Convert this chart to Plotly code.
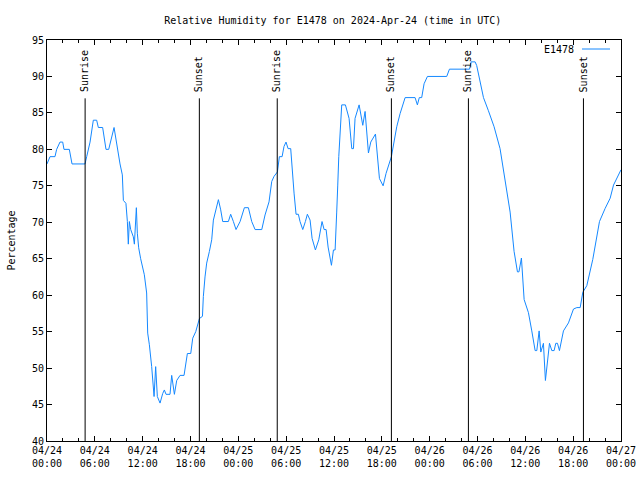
import pandas as pd
import plotly.graph_objects as go

# hours since 2024-04-24 00:00 UTC and relative humidity (%)
hours = [0, 0.38, 1.0, 1.21, 1.63, 1.97, 2.13, 2.8, 3.14, 4.77, 4.98, 5.4, 5.81, 6.23, 6.44, 6.98,
         7.4, 7.74, 8.41, 8.82, 9.16, 9.45, 9.58, 9.9, 10.08, 10.2, 10.33, 10.5, 10.83, 10.96, 11.21,
         11.33, 11.5, 11.75, 12.21, 12.5, 12.63, 12.84, 13.13, 13.43, 13.63, 13.84, 14.18, 14.51,
         14.72, 14.93, 15.43, 15.64, 15.98, 16.27, 16.69, 17.19, 17.61, 18.03, 18.28, 18.66, 19.12,
         19.5, 19.61, 19.82, 20.03, 20.37, 20.66, 20.87, 21.29, 21.5, 21.79, 22.04, 22.75, 23.04,
         23.38, 23.71, 24.22, 24.76, 25.26, 25.68, 26.1, 26.94, 27.35, 27.85, 28.19, 28.48, 28.9,
         29.15, 29.49, 29.73, 29.98, 30.24, 30.57, 30.78, 30.99, 31.24, 31.53, 31.74, 32.08, 32.41,
         32.66, 33.0, 33.25, 33.67, 34.09, 34.5, 34.76, 35.01, 35.26, 35.68, 35.93, 36.14, 36.22,
         36.34, 36.47, 36.6, 36.97, 37.43, 37.89, 38.23, 38.44, 38.64, 39.15, 39.27, 39.61, 39.9,
         40.32, 40.61, 41.2, 41.7, 42.16, 42.53, 43.2, 43.87, 44.29, 44.92, 46.17, 46.46, 46.7,
         47.0, 47.3, 47.72, 50.14, 50.48, 53.0, 53.2, 53.7, 53.9, 54.12, 54.75, 55.37, 56.08, 56.83,
         57.59, 58.09, 58.59, 59.01, 59.2, 59.51, 59.85, 60.39, 60.81, 61.23, 61.44, 61.73, 61.94,
         62.27, 62.52, 62.77, 63.03, 63.32, 63.61, 63.82, 64.03, 64.28, 64.78, 65.41, 66.04, 66.46,
         66.88, 67.21, 67.71, 68.46, 68.88, 69.3, 70.01, 70.64, 71.06, 71.9, 72.0]
humidity = [78, 79, 79, 80, 81, 81, 80, 80, 78, 78, 79, 81, 84, 84, 83, 83,
            80, 80, 83, 80, 78, 76.5, 73, 72.6, 70.1, 67, 70.1, 69, 68, 67, 72,
            68.5, 66.5, 65, 62.8, 60.3, 54.8, 53.2, 50.2, 46.1, 50.2, 46.1, 45.2, 46.5,
            47, 46.4, 46.4, 49, 46.4, 48.3, 49, 49, 52, 52, 54.1, 55, 56.8,
            57.1, 59.8, 62.5, 64.4, 66, 67.6, 70.3, 72.1, 73.1, 71.7, 70.1, 70.1, 71.1,
            70.1, 69, 70.1, 72, 72, 70.1, 69, 69, 71, 72.8, 75.6, 76.3, 76.9,
            79, 79, 80.4, 81, 80.1, 80.1, 76.7, 74, 71.1, 71.1, 70.1, 69, 70.1,
            71.1, 70.3, 67.8, 66.2, 67.6, 70.1, 69, 69, 66.6, 64.1, 66.2, 66.2, 67.8,
            71.4, 75.1, 79, 86.1, 86.1, 84.25, 80.1, 80.1, 84.25, 86.1, 85.2, 83.3, 85.2,
            79.5, 81, 82.1, 76, 75, 76.7, 79, 83.1, 84.9, 87.1, 87.1, 86.1, 87.1,
            87.1, 89, 90, 90, 91, 91, 92, 92, 91.5, 90.3, 87.1, 85.3, 83.1, 80.1,
            75.1, 71.4, 66, 63.2, 63.2, 65.1, 59.4, 57.6, 55.1, 52.4, 52.4, 55.1, 52.2,
            53.4, 48.3, 50.8, 53.4, 52.4, 52.4, 53.4, 53.4, 52.4, 55.1, 56.2, 58.1, 58.3,
            58.3, 60.4, 61.3, 64.9, 67.4, 70.1, 71.9, 73.3, 75.1, 77.1, 77.2]

event_hours = [4.78, 19.11, 28.88, 43.2, 52.86, 67.29]
event_names = ["Sunrise", "Sunset", "Sunrise", "Sunset", "Sunrise", "Sunset"]

y_ticks = [40, 45, 50, 55, 60, 65, 70, 75, 80, 85, 90, 95]

base = pd.Timestamp("2024-04-24 00:00")
times = base + pd.to_timedelta(hours, unit="h")
event_times = base + pd.to_timedelta(event_hours, unit="h")

FONT = "DejaVu Sans Mono"
LINE_COLOR = "rgb(20,136,255)"

fig = go.Figure()
fig.add_trace(go.Scatter(x=times, y=humidity, mode="lines",
                         line=dict(color=LINE_COLOR, width=1), name="E1478",
                         showlegend=False))

for t, name in zip(event_times, event_names):
    fig.add_shape(type="line", x0=t, x1=t, y0=40, y1=87, xref="x", yref="y",
                  line=dict(color="black", width=1))
    fig.add_annotation(x=t, y=87.6, xref="x", yref="y", text=name, showarrow=False,
                       textangle=-90, xanchor="center", yanchor="bottom",
                       font=dict(family=FONT, size=10, color="black"))

# legend (gnuplot style: text then sample line)
fig.add_annotation(x=(576 - 47) / 574, y=(441 - 49) / 401, xref="paper", yref="paper",
                   text="E1478", showarrow=False, xanchor="right", yanchor="middle",
                   font=dict(family=FONT, size=10, color="black"))
fig.add_shape(type="line", xref="paper", yref="paper",
              x0=(582 - 47) / 574, x1=(610 - 47) / 574,
              y0=(441 - 49) / 401, y1=(441 - 49) / 401,
              line=dict(color=LINE_COLOR, width=1))

fig.update_layout(
    width=640, height=480,
    margin=dict(l=47, r=19, t=40, b=39, autoexpand=False),
    paper_bgcolor="white", plot_bgcolor="white",
    font=dict(family=FONT, size=10, color="black"),
    title=dict(text="Relative Humidity for E1478 on 2024-Apr-24 (time in UTC)",
               x=0.52, xanchor="center", y=1 - 20 / 480, yanchor="middle",
               font=dict(family=FONT, size=10, color="black")),
    showlegend=False,
)
fig.update_xaxes(
    type="date", range=[base, base + pd.Timedelta(hours=72)], automargin=False,
    tick0=base, dtick=6 * 3600 * 1000, tickformat="%m/%d<br>%H:%M",
    ticks="inside", ticklen=5, tickcolor="black", showgrid=False, zeroline=False,
    showline=True, linecolor="black", linewidth=1, mirror="ticks",
    minor=dict(dtick=2 * 3600 * 1000, tick0=base, ticks="inside", ticklen=3,
               tickcolor="black", showgrid=False),
    tickfont=dict(family=FONT, size=10),
)
fig.update_yaxes(
    range=[40, 95], tickvals=y_ticks, ticks="inside", ticklen=5, tickcolor="black",
    showgrid=False, zeroline=False, showline=True, linecolor="black", linewidth=1,
    mirror="ticks", tickfont=dict(family=FONT, size=10), automargin=False,
    title=dict(text="Percentage", font=dict(family=FONT, size=10), standoff=14),
)

fig.write_html("out.html", config={"displayModeBar": False},
               post_script="document.body.style.margin='0';")
